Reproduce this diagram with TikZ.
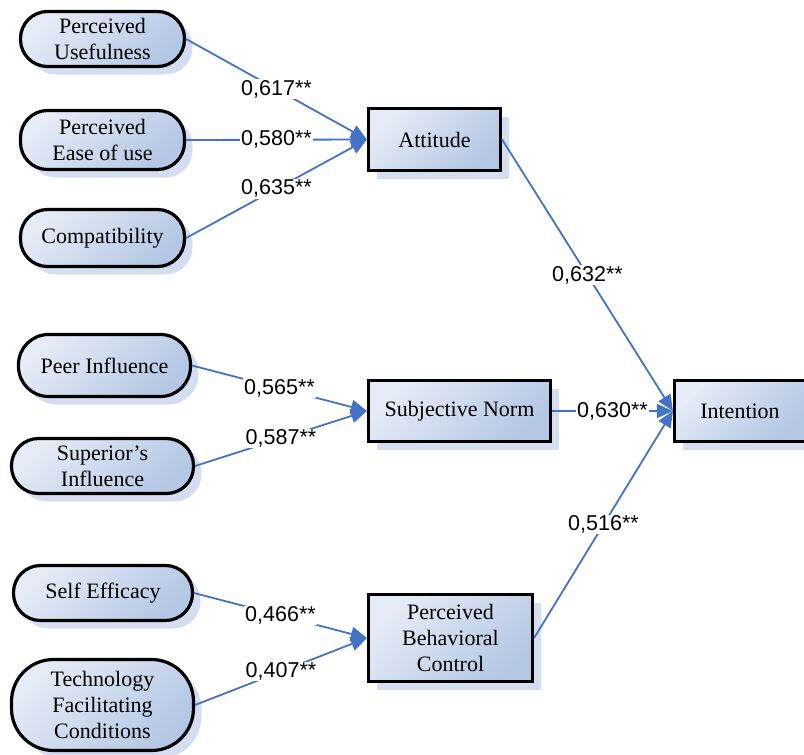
\documentclass[tikz,border=0pt]{standalone}
\usepackage{fontspec}
\usetikzlibrary{arrows.meta,shadows}
\newfontfamily\serifnode{Liberation Serif}
\newfontfamily\sanslabel{Liberation Sans}

\definecolor{arrowblue}{RGB}{68,114,196}
\definecolor{fillhi}{RGB}{230,236,247}
\definecolor{filllo}{RGB}{180,199,228}
\definecolor{shadowblue}{RGB}{213,222,240}

\tikzset{
  box/.style={draw=black, line width=3.2pt,
    top color=fillhi, bottom color=filllo, shading angle=45,
    drop shadow={shadow xshift=8pt, shadow yshift=-8pt, fill=shadowblue, opacity=1},
    font=\serifnode\fontsize{22}{26}\selectfont, align=center, inner sep=0pt},
  factor/.style={box, rounded corners=#1},
  factor/.default=27pt,
  construct/.style={box},
  link/.style={draw=arrowblue, line width=1.8pt,
    -{Triangle[length=16pt,width=14pt]}},
  coef/.style={fill=white, inner sep=1pt, text=black,
    font=\sanslabel\fontsize{21.5}{24}\selectfont}
}

\begin{document}
\begin{tikzpicture}[x=1pt,y=-1pt]
\useasboundingbox (0,0) rectangle (804,755);

% antecedents
\node[factor, minimum width=164pt, minimum height=55pt] (pu)   at (102.5,39)  {Perceived\\Usefulness};
\node[factor, minimum width=164pt, minimum height=59pt] (peou) at (102.5,140) {Perceived\\Ease of use};
\node[factor, minimum width=164pt, minimum height=57pt] (comp) at (102.5,238) {Compatibility};
\node[factor=30pt, minimum width=172pt, minimum height=62pt] (peer) at (104.5,365.5) {Peer Influence};
\node[factor, minimum width=182pt, minimum height=55pt] (sup)  at (102.5,466) {Superior’s\\Influence};
\node[factor, minimum width=179pt, minimum height=55pt] (se)   at (103,593)   {Self Efficacy};
\node[factor=42pt, minimum width=182pt, minimum height=91pt] (tfc) at (102.5,705) {Technology\\Facilitating\\Conditions};

% constructs
\node[construct, minimum width=132pt, minimum height=62pt] (att) at (434.5,139.5) {Attitude};
\node[construct, minimum width=182pt, minimum height=61pt] (sn)  at (459.5,411)   {Subjective Norm};
\node[construct, minimum width=164pt, minimum height=87pt] (pbc) at (450.5,638)   {Perceived\\Behavioral\\Control};
\node[construct, minimum width=131pt, minimum height=61pt] (int) at (740,411)     {Intention};

% paths with coefficients
\draw[link] (pu.east)   -- node[coef]{0,617**} (att.west);
\draw[link] (peou.east) -- node[coef]{0,580**} (att.west);
\draw[link] (comp.east) -- node[coef]{0,635**} (att.west);

\draw[link] (peer.east) -- node[coef]{0,565**} (sn.west);
\draw[link] (sup.east)  -- node[coef]{0,587**} (sn.west);

\draw[link] (se.east)   -- node[coef]{0,466**} (pbc.west);
\draw[link] (tfc.east)  -- node[coef]{0,407**} (pbc.west);

\draw[link] (att.east)  -- node[coef]{0,632**} (int.west);
\draw[link] (sn.east)   -- node[coef]{0,630**} (int.west);
\draw[link] (pbc.east)  -- node[coef]{0,516**} (int.west);
\end{tikzpicture}
\end{document}
